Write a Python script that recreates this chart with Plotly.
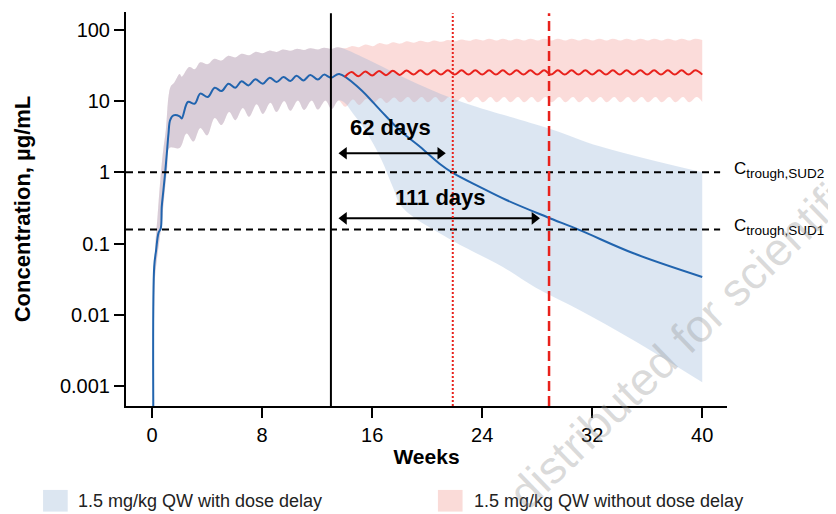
import math
import plotly.graph_objects as go

# ---------------- data ----------------
# Median, 1.5 mg/kg QW with dose delay (blue)
blue_med_weeks = [0.09, 0.15, 0.29, 0.46, 0.63, 0.70, 0.82, 0.95, 1.07, 1.19,
                  1.31, 1.55, 2.0, 2.15, 2.6, 3.1, 3.5, 4.05, 4.55, 5.05,
                  5.55, 6.05, 6.5, 7.0, 7.5, 8.05, 8.55, 9.05, 9.55, 10.05,
                  10.5, 11.0, 11.5, 12.05, 12.5, 13.0, 13.6, 15.1, 16.6, 18.0,
                  19.5, 20.9, 21.8, 23.85, 25.8, 28.7, 31.1, 35.0, 40.0]
blue_med_conc = [0.0003, 0.047, 0.081, 0.14, 0.164, 0.33, 0.56, 1.0, 1.85, 3.5,
                 5.4, 6.3, 6.1, 5.7, 9.7, 9.2, 12.7, 11.4, 15.4, 13.8,
                 17.5, 15.4, 18.9, 16.6, 20.2, 17.5, 21.3, 18.5, 21.7, 19.1,
                 22.7, 19.5, 23.2, 20.0, 23.5, 21.3, 24.0, 14.9, 7.4, 3.9,
                 2.26, 1.32, 1.0, 0.62, 0.405, 0.236, 0.154, 0.073, 0.034]

# Median, 1.5 mg/kg QW without dose delay (red), after the split
red_med_weeks = [14.0, 14.5, 15.0, 15.5, 16.0, 16.5, 17.0, 17.5, 18.0, 18.5,
                 19.0, 19.5, 20.0, 20.5, 21.0, 21.5, 22.0, 22.5, 23.0, 23.5,
                 24.0, 24.5, 25.0, 25.5, 26.0, 26.5, 27.0, 27.5, 28.0, 28.5,
                 29.0, 29.5, 30.0, 30.5, 31.0, 31.5, 32.0, 32.5, 33.0, 33.5,
                 34.0, 34.5, 35.0, 35.5, 36.0, 36.5, 37.0, 37.5, 38.0, 38.5,
                 39.0, 39.5, 40.0]
red_med_conc = [21.7, 25.5, 22.3, 26.0, 22.8, 26.4, 23.1, 26.6, 23.3, 26.8,
                23.5, 27.0, 23.5, 27.0, 23.5, 27.0, 23.5, 27.0, 23.5, 27.0,
                23.5, 27.0, 23.5, 27.0, 23.5, 27.0, 23.5, 27.0, 23.5, 27.0,
                23.5, 27.0, 23.5, 27.0, 23.5, 27.0, 23.5, 27.0, 23.5, 27.0,
                23.5, 27.0, 23.5, 27.0, 23.5, 27.0, 23.5, 27.0, 23.5, 27.0,
                23.5, 27.0, 23.5]

# Prediction interval, shared part (before the dose delay)
early_upper_weeks = [0.12, 0.2, 0.4, 0.6, 0.8, 1.0, 1.2, 1.35, 1.6, 2.0,
                     2.15, 2.7, 3.1, 3.5, 4.05, 4.5, 5.05, 5.5, 6.05, 6.5,
                     7.05, 7.5, 8.05, 8.5, 9.05, 9.5, 10.05, 10.5, 11.05, 11.5,
                     12.05, 12.5, 13.05, 13.5]
early_upper_conc = [0.0003, 0.07, 0.25, 0.8, 2.0, 4.0, 12.0, 16.0, 18.0, 24.0,
                    22.0, 30.0, 28.0, 35.0, 33.0, 39.0, 37.0, 43.0, 41.0, 46.0,
                    44.0, 49.0, 47.0, 51.0, 49.0, 53.0, 51.0, 54.0, 52.0, 55.0,
                    53.0, 56.0, 54.0, 57.0]
early_lower_weeks = [0.12, 0.2, 0.35, 0.5, 0.7, 0.9, 1.1, 1.25, 2.0, 2.5,
                     3.0, 3.5, 4.0, 4.55, 5.05, 5.6, 6.05, 6.6, 7.05, 7.6,
                     8.05, 8.6, 9.05, 9.6, 10.05, 10.6, 11.05, 11.6, 12.05, 12.6,
                     13.05, 13.55]
early_lower_conc = [0.0003, 0.03, 0.06, 0.1, 0.2, 0.5, 1.2, 2.2, 2.2, 3.5,
                    2.7, 4.2, 3.3, 5.8, 4.6, 7.0, 5.4, 8.0, 6.0, 9.0,
                    6.6, 9.5, 7.0, 10.0, 7.3, 10.2, 7.5, 10.2, 7.6, 10.2,
                    7.7, 10.2]

# Interval after the split, with dose delay (blue)
blue_upper_weeks = [15.6, 18.0, 20.4, 22.9, 28.9, 32.6, 40.0]
blue_upper_conc = [39.0, 22.9, 14.1, 9.2, 4.1, 2.3, 1.0]
blue_lower_weeks = [14.0, 14.6, 15.5, 16.7, 17.5, 18.2, 21.8, 25.5, 27.9, 31.1, 35.0, 40.0]
blue_lower_conc = [9.5, 6.7, 3.9, 1.47, 0.62, 0.32, 0.111, 0.047, 0.024, 0.0116, 0.0044, 0.00113]

# Interval after the split, without dose delay (red)
red_upper_weeks = [14.05, 14.5, 15.05, 15.5, 16.05, 16.5, 17.05, 17.5, 18.05, 18.5,
                   19.05, 19.5, 20.05, 20.5, 21.05, 21.5, 22.05, 22.5, 23.05, 23.5,
                   24.05, 24.5, 25.05, 25.5, 26.05, 26.5, 27.05, 27.5, 28.05, 28.5,
                   29.05, 29.5, 30.05, 30.5, 31.05, 31.5, 32.05, 32.5, 33.05, 33.5,
                   34.05, 34.5, 35.05, 35.5, 36.05, 36.5, 37.05, 37.5, 38.05, 38.5,
                   39.05, 39.5, 40.0]
red_upper_conc = [55, 59, 57, 62, 59, 65, 62, 67, 64, 69,
                  66, 70, 67, 71, 68, 72, 69, 73, 70, 74,
                  71, 75, 71, 75, 71, 75, 71, 75, 71, 75,
                  71, 75, 71, 75, 71, 75, 71, 75, 71, 75,
                  71, 75, 71, 75, 71, 75, 71, 75, 71, 75,
                  71, 75, 72]
red_lower_weeks = [14.05, 14.6, 15.05, 15.6, 16.05, 16.6, 17.05, 17.6, 18.05, 18.6,
                   19.05, 19.6, 20.05, 20.6, 21.05, 21.6, 22.05, 22.6, 23.05, 23.6,
                   24.05, 24.6, 25.05, 25.6, 26.05, 26.6, 27.05, 27.6, 28.05, 28.6,
                   29.05, 29.6, 30.05, 30.6, 31.05, 31.6, 32.05, 32.6, 33.05, 33.6,
                   34.05, 34.6, 35.05, 35.6, 36.05, 36.6, 37.05, 37.6, 38.05, 38.6,
                   39.05, 39.6, 40.0]
red_lower_conc = [8.3, 10.5, 8.8, 10.8, 9.2, 11.0, 9.4, 11.2, 9.6, 11.4,
                  9.6, 11.4, 9.6, 11.4, 9.6, 11.4, 9.6, 11.4, 9.6, 11.4,
                  9.6, 11.4, 9.6, 11.4, 9.6, 11.4, 9.6, 11.4, 9.6, 11.4,
                  9.6, 11.4, 9.6, 11.4, 9.6, 11.4, 9.6, 11.4, 9.6, 11.4,
                  9.6, 11.4, 9.6, 11.4, 9.6, 11.4, 9.6, 11.4, 9.6, 11.4,
                  9.6, 11.4, 9.7]

# reference markers
last_dose_week = 13.0
delay_62_week = 21.86
delay_111_week = 28.86
ctrough_sud2 = 1.0
ctrough_sud1 = 0.158
arrow62_weeks = [13.95, 20.95]
arrow62_conc = [1.85, 1.85]
arrow111_weeks = [13.95, 27.8]
arrow111_conc = [0.226, 0.226]
x_ticks = [0, 8, 16, 24, 32, 40]
y_ticks = [0.001, 0.01, 0.1, 1, 10, 100]
y_ticktext = ["0.001", "0.01", "0.1", "1", "10", "100"]
legend_labels = ["1.5 mg/kg QW with dose delay", "1.5 mg/kg QW without dose delay"]

BLUE_LINE = "#2164ae"
RED_LINE = "#e8221c"
BLUE_FILL = "rgba(138,172,212,0.3)"
RED_FILL = "rgba(242,138,132,0.3)"
FONT = "Liberation Sans, Arial, sans-serif"

fig = go.Figure()


def add_band(up_w, up_c, lo_w, lo_c, color):
    fig.add_trace(go.Scatter(x=lo_w, y=lo_c, mode="lines",
                             line=dict(width=0, shape="spline", smoothing=1.0),
                             hoverinfo="skip", showlegend=False))
    fig.add_trace(go.Scatter(x=up_w, y=up_c, mode="lines", fill="tonexty", fillcolor=color,
                             line=dict(width=0, shape="spline", smoothing=1.0),
                             hoverinfo="skip", showlegend=False))


add_band(early_upper_weeks + red_upper_weeks, early_upper_conc + red_upper_conc,
         early_lower_weeks + red_lower_weeks, early_lower_conc + red_lower_conc, RED_FILL)
add_band(early_upper_weeks + blue_upper_weeks, early_upper_conc + blue_upper_conc,
         early_lower_weeks + blue_lower_weeks, early_lower_conc + blue_lower_conc, BLUE_FILL)

fig.add_trace(go.Scatter(x=blue_med_weeks, y=blue_med_conc, mode="lines",
                         line=dict(color=BLUE_LINE, width=2, shape="spline", smoothing=1.0),
                         showlegend=False))
fig.add_trace(go.Scatter(x=red_med_weeks, y=red_med_conc, mode="lines",
                         line=dict(color=RED_LINE, width=2, shape="spline", smoothing=1.0),
                         showlegend=False))

# double-headed arrows
for wx, cy in ((arrow62_weeks, arrow62_conc), (arrow111_weeks, arrow111_conc)):
    fig.add_trace(go.Scatter(x=wx, y=cy, mode="lines+markers",
                             line=dict(color="black", width=2),
                             marker=dict(symbol=["triangle-left", "triangle-right"], size=11,
                                         color="black", line=dict(width=0)),
                             showlegend=False, hoverinfo="skip"))

x_lo, x_hi = -1.9, 41.8
shapes = []
for yv in (ctrough_sud2, ctrough_sud1):
    shapes.append(dict(type="line", xref="x", yref="y", x0=x_lo, x1=41.3, y0=yv, y1=yv,
                       line=dict(color="black", width=2, dash="7px,5px")))
shapes.append(dict(type="line", xref="x", yref="paper", x0=last_dose_week, x1=last_dose_week,
                   y0=0, y1=0.997, line=dict(color="black", width=2)))
shapes.append(dict(type="line", xref="x", yref="paper", x0=delay_62_week, x1=delay_62_week,
                   y0=0, y1=0.997, line=dict(color=RED_LINE, width=2, dash="2px,2px")))
shapes.append(dict(type="line", xref="x", yref="paper", x0=delay_111_week, x1=delay_111_week,
                   y0=0, y1=0.997, line=dict(color=RED_LINE, width=2.5, dash="10px,5px")))

# manual legend swatches
shapes.append(dict(type="rect", xref="paper", yref="paper", x0=-0.138, x1=-0.097, y0=-0.268, y1=-0.213,
                   fillcolor="#dce6f1", line=dict(width=0)))
shapes.append(dict(type="rect", xref="paper", yref="paper", x0=0.519, x1=0.560, y0=-0.268, y1=-0.213,
                   fillcolor="#fadbd8", line=dict(width=0)))

ann = []
ann.append(dict(x=17.3, y=0.631, xref="x", yref="y", text="<b>62 days</b>", showarrow=False,
                font=dict(size=22, color="black", family=FONT)))
ann.append(dict(x=20.95, y=-0.351, xref="x", yref="y", text="<b>111 days</b>", showarrow=False,
                font=dict(size=22, color="black", family=FONT)))
for yv, lab in ((ctrough_sud2, "trough,SUD2"), (ctrough_sud1, "trough,SUD1")):
    ann.append(dict(x=1.008, y=math.log10(yv), xref="paper", yref="y", xanchor="left",
                    yanchor="middle", showarrow=False, yshift=2,
                    text="C<sub><span style='font-size:13.5px'>" + lab + "</span></sub>",
                    font=dict(size=17, color="black", family=FONT)))
ann.append(dict(x=-0.083, y=-0.24, xref="paper", yref="paper", xanchor="left", yanchor="middle",
                text=legend_labels[0], showarrow=False, font=dict(size=18, color="#222", family=FONT)))
ann.append(dict(x=0.575, y=-0.24, xref="paper", yref="paper", xanchor="left", yanchor="middle",
                text=legend_labels[1], showarrow=False, font=dict(size=18, color="#222", family=FONT)))
# watermark
ann.append(dict(x=0.93, y=0.172, xref="paper", yref="paper", xanchor="center", yanchor="middle",
                text="distributed for scientific", textangle=-44, showarrow=False,
                font=dict(size=46, color="rgba(150,150,150,0.35)", family=FONT)))

fig.update_layout(
    width=828, height=506, autosize=False,
    margin=dict(l=118, r=109, t=4, b=108),
    plot_bgcolor="white", paper_bgcolor="white",
    font=dict(family=FONT, color="black"),
    shapes=shapes, annotations=ann, showlegend=False,
    xaxis=dict(range=[x_lo, x_hi], tickvals=x_ticks, ticks="outside", ticklen=10, tickwidth=2,
               tickcolor="black", showline=True, linewidth=2, linecolor="black",
               showgrid=False, zeroline=False, tickfont=dict(size=20),
               title=dict(text="<b>Weeks</b>", font=dict(size=21), standoff=4)),
    yaxis=dict(type="log", range=[-3.28, 2.25], tickvals=y_ticks, ticktext=y_ticktext,
               ticks="outside", ticklen=10, tickwidth=2, tickcolor="black",
               showline=True, linewidth=2, linecolor="black", showgrid=False, zeroline=False,
               tickfont=dict(size=20),
               title=dict(text="<b>Concentration, µg/mL</b>", font=dict(size=22), standoff=23)),
)

fig.write_html("out.html")
